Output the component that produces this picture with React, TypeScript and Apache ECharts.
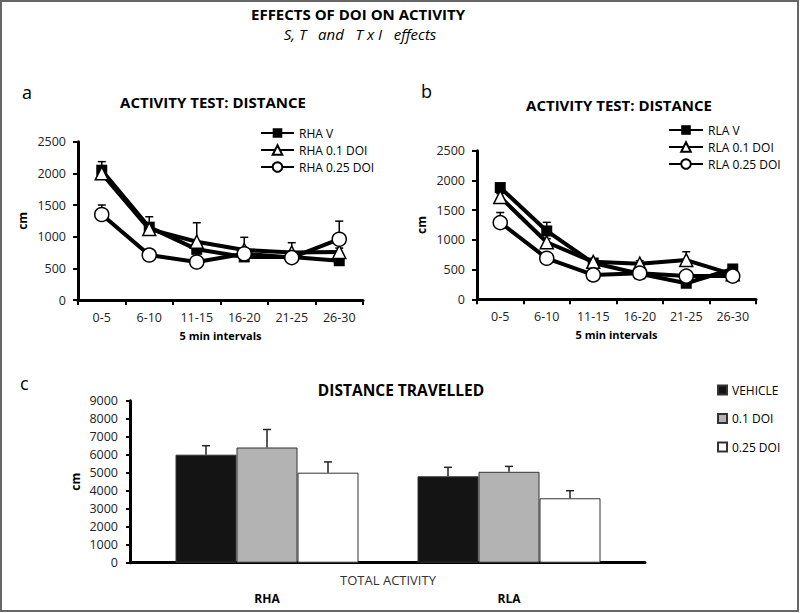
import React, { useEffect, useRef } from "react";
import * as echarts from "echarts";

const intervals = ["0-5", "6-10", "11-15", "16-20", "21-25", "26-30"];

const rhaV = [2050, 1150, 800, 680, 680, 620];
const rhaV_se = [135, 165, 50, 50, 50, 50];
const rha01 = [2000, 1120, 920, 790, 750, 760];
const rha01_se = [100, 100, 300, 200, 155, 60];
const rha025 = [1350, 710, 600, 730, 670, 960];
const rha025_se = [150, 50, 50, 50, 50, 285];

const rlaV = [1880, 1150, 610, 430, 270, 510];
const rlaV_se = [60, 145, 50, 50, 50, 50];
const rla01 = [1720, 960, 630, 600, 660, 420];
const rla01_se = [60, 60, 50, 50, 140, 50];
const rla025 = [1290, 690, 410, 440, 390, 390];
const rla025_se = [170, 90, 50, 50, 50, 50];

const groups = ["RHA", "RLA"];
const vehicle = [6000, 4800];
const vehicle_se = [500, 500];
const doi01 = [6400, 5050];
const doi01_se = [1000, 300];
const doi025 = [5000, 3580];
const doi025_se = [600, 420];

const FONT = "'Open Sans', sans-serif";
const BAR_W = 61;

function errRender(offset: number, cap: number, color: string) {
  return (params: any, api: any) => {
    const x = api.value(0);
    const v = api.value(1);
    const e = api.value(2);
    const p0 = api.coord([x, v]);
    const p1 = api.coord([x, v + e]);
    const cx = p0[0] + offset;
    return {
      type: "group",
      children: [
        { type: "line", shape: { x1: cx, y1: p0[1], x2: cx, y2: p1[1] }, style: { stroke: color, lineWidth: 1.5 } },
        { type: "line", shape: { x1: cx - cap, y1: p1[1], x2: cx + cap, y2: p1[1] }, style: { stroke: color, lineWidth: 1.5 } },
      ],
    };
  };
}

function errData(vals: number[], se: number[]) {
  return vals.map((v, i) => [i, v, se[i]]);
}

const plain = (v: number) => String(v);

export default function App() {
  const ref = useRef<HTMLDivElement>(null);
  useEffect(() => {
    if (!ref.current) return;
    const chart = echarts.init(ref.current, null, { renderer: "svg" });

    const lineAxisX = (gi: number) => ({
      type: "category",
      gridIndex: gi,
      data: intervals,
      boundaryGap: true,
      axisLine: { lineStyle: { color: "#000", width: 3 } },
      axisTick: { show: true, length: 5, lineStyle: { color: "#000", width: 2 } },
      axisLabel: { color: "#222", fontSize: 12.5, fontFamily: FONT, margin: 11 },
      name: "5 min intervals",
      nameLocation: "middle",
      nameGap: 30,
      nameMoveOverlap: false,
      nameTextStyle: { color: "#000", fontWeight: "bold", fontSize: 11, fontFamily: FONT },
    });
    const lineAxisY = (gi: number) => ({
      type: "value",
      gridIndex: gi,
      min: 0,
      max: 2500,
      interval: 500,
      axisLine: { show: true, lineStyle: { color: "#000", width: 3 } },
      axisTick: { show: true, length: 5, lineStyle: { color: "#000", width: 2 } },
      axisLabel: { color: "#222", fontSize: 12.5, fontFamily: FONT, margin: 12, formatter: plain },
      splitLine: { show: false },
      name: "cm",
      nameLocation: "middle",
      nameRotate: 90,
      nameGap: 50,
      nameMoveOverlap: false,
      nameTextStyle: { color: "#000", fontWeight: "bold", fontSize: 12, fontFamily: FONT },
    });

    const lineSeries = (name: string, data: number[], gi: number, kind: string) => {
      const base: any = {
        name,
        type: "line",
        xAxisIndex: gi,
        yAxisIndex: gi,
        data,
        z: 3,
        lineStyle: { color: "#000", width: 4 },
        symbolKeepAspect: true,
      };
      if (kind === "rect") {
        base.symbol = "rect";
        base.symbolSize = 11;
        base.itemStyle = { color: "#000", borderColor: "#000", borderWidth: 0 };
      } else if (kind === "triangle") {
        base.symbol = "triangle";
        base.symbolSize = 13;
        base.itemStyle = { color: "#fff", borderColor: "#000", borderWidth: 1.5 };
      } else {
        base.symbol = "circle";
        base.symbolSize = 14;
        base.itemStyle = { color: "#fff", borderColor: "#000", borderWidth: 1.5 };
      }
      return base;
    };

    const errSeries = (vals: number[], se: number[], xi: number, offset: number, cap: number, color: string, z: number) => ({
      type: "custom",
      xAxisIndex: xi,
      yAxisIndex: xi,
      data: errData(vals, se),
      renderItem: errRender(offset, cap, color),
      z,
      silent: true,
    });

    const option: any = {
      animation: false,
      backgroundColor: "#fff",
      title: [
        { text: "EFFECTS OF DOI ON ACTIVITY", left: 353, top: 1, textAlign: "center", textStyle: { fontSize: 15, fontWeight: "bold", color: "#000", fontFamily: FONT } },
        { text: "S, T   and   T x I   effects", left: 355, top: 21, textAlign: "center", textStyle: { fontSize: 15, fontStyle: "italic", fontWeight: "normal", color: "#000", fontFamily: FONT } },
        { text: "a", left: 17, top: 78, textStyle: { fontSize: 18, fontWeight: "normal", color: "#000", fontFamily: FONT } },
        { text: "b", left: 416, top: 77, textStyle: { fontSize: 18, fontWeight: "normal", color: "#000", fontFamily: FONT } },
        { text: "c", left: 15, top: 369, textStyle: { fontSize: 18, fontWeight: "normal", color: "#000", fontFamily: FONT } },
        { text: "ACTIVITY TEST: DISTANCE", left: 208, top: 89, textAlign: "center", textStyle: { fontSize: 15, fontWeight: "bold", color: "#000", fontFamily: FONT } },
        { text: "ACTIVITY TEST: DISTANCE", left: 614, top: 92, textAlign: "center", textStyle: { fontSize: 15, fontWeight: "bold", color: "#000", fontFamily: FONT } },
        { text: "DISTANCE TRAVELLED", left: 396, top: 377, textAlign: "center", textStyle: { fontSize: 15.5, fontWeight: "bold", color: "#000", fontFamily: FONT } },
      ],
      legend: [
        {
          orient: "vertical", left: 260, top: 127, padding: 0, itemWidth: 33, itemHeight: 12, itemGap: 5,
          selectedMode: false, data: ["RHA V", "RHA 0.1 DOI", "RHA 0.25 DOI"],
          textStyle: { fontSize: 12, color: "#000", fontFamily: FONT },
        },
        {
          orient: "vertical", left: 668, top: 124, padding: 0, itemWidth: 34, itemHeight: 12, itemGap: 5,
          selectedMode: false, data: ["RLA V", "RLA 0.1 DOI", "RLA 0.25 DOI"],
          textStyle: { fontSize: 12, color: "#000", fontFamily: FONT },
        },
        {
          orient: "vertical", left: 717, top: 384, padding: 0, itemWidth: 9, itemHeight: 9, itemGap: 16.5,
          selectedMode: false, icon: "rect", data: ["VEHICLE", "0.1 DOI", "0.25 DOI"],
          textStyle: { fontSize: 12, color: "#000", fontFamily: FONT },
        },
      ],
      grid: [
        { left: 78, top: 141.7, width: 285, height: 158.3 },
        { left: 477, top: 150.7, width: 279, height: 148.6 },
        { left: 130, top: 400.7, width: 515, height: 162 },
        { left: 146, top: 400.7, width: 484, height: 162 },
      ],
      xAxis: [
        lineAxisX(0),
        lineAxisX(1),
        {
          type: "category", gridIndex: 2, data: groups,
          axisLine: { lineStyle: { color: "#000", width: 3 } },
          axisTick: { show: false }, axisLabel: { show: false },
        },
        {
          type: "category", gridIndex: 3, data: groups,
          axisLine: { show: false }, axisTick: { show: false },
          axisLabel: { color: "#000", fontSize: 12, fontWeight: "bold", fontFamily: FONT, margin: 30 },
          name: "TOTAL ACTIVITY", nameLocation: "middle", nameGap: 11, nameMoveOverlap: false,
          nameTextStyle: { color: "#333", fontSize: 13, fontFamily: FONT },
        },
      ],
      yAxis: [
        lineAxisY(0),
        lineAxisY(1),
        {
          type: "value", gridIndex: 2, min: 0, max: 9000, interval: 1000,
          axisLine: { show: true, lineStyle: { color: "#000", width: 3 } },
          axisTick: { show: true, length: 4, lineStyle: { color: "#000", width: 2 } },
          axisLabel: { color: "#222", fontSize: 12.5, fontFamily: FONT, margin: 12, formatter: plain },
          splitLine: { show: false },
          name: "cm", nameLocation: "middle", nameRotate: 90, nameGap: 49, nameMoveOverlap: false,
          nameTextStyle: { color: "#000", fontWeight: "bold", fontSize: 12, fontFamily: FONT },
        },
        {
          type: "value", gridIndex: 3, min: 0, max: 9000, interval: 1000, show: false,
        },
      ],
      series: [
        errSeries(rhaV, rhaV_se, 0, 0, 4, "#000", 1),
        errSeries(rha01, rha01_se, 0, 0, 4, "#000", 1),
        errSeries(rha025, rha025_se, 0, 0, 4, "#000", 1),
        errSeries(rlaV, rlaV_se, 1, 0, 4, "#000", 1),
        errSeries(rla01, rla01_se, 1, 0, 4, "#000", 1),
        errSeries(rla025, rla025_se, 1, 0, 4, "#000", 1),
        lineSeries("RHA V", rhaV, 0, "rect"),
        lineSeries("RHA 0.1 DOI", rha01, 0, "triangle"),
        lineSeries("RHA 0.25 DOI", rha025, 0, "circle"),
        lineSeries("RLA V", rlaV, 1, "rect"),
        lineSeries("RLA 0.1 DOI", rla01, 1, "triangle"),
        lineSeries("RLA 0.25 DOI", rla025, 1, "circle"),
        {
          name: "VEHICLE", type: "bar", xAxisIndex: 3, yAxisIndex: 3, data: vehicle,
          barWidth: BAR_W, barGap: "0%", itemStyle: { color: "#141414", borderColor: "#333", borderWidth: 1 },
        },
        {
          name: "0.1 DOI", type: "bar", xAxisIndex: 3, yAxisIndex: 3, data: doi01,
          barWidth: BAR_W, barGap: "0%", itemStyle: { color: "#b3b3b3", borderColor: "#333", borderWidth: 1 },
        },
        {
          name: "0.25 DOI", type: "bar", xAxisIndex: 3, yAxisIndex: 3, data: doi025,
          barWidth: BAR_W, barGap: "0%", itemStyle: { color: "#ffffff", borderColor: "#333", borderWidth: 1 },
        },
        errSeries(vehicle, vehicle_se, 3, -BAR_W, 4, "#222", 5),
        errSeries(doi01, doi01_se, 3, 0, 4, "#222", 5),
        errSeries(doi025, doi025_se, 3, BAR_W, 4, "#222", 5),
      ],
      graphic: [
        {
          type: "rect", shape: { x: 1, y: 1, width: 797, height: 610 }, silent: true,
          style: { fill: "none", stroke: "#666", lineWidth: 2 },
        },
      ],
    };
    chart.setOption(option);
    return () => chart.dispose();
  }, []);
  return <div ref={ref} style={{ position: "fixed", left: 0, top: 0, width: 800, height: 613 }} />;
}
